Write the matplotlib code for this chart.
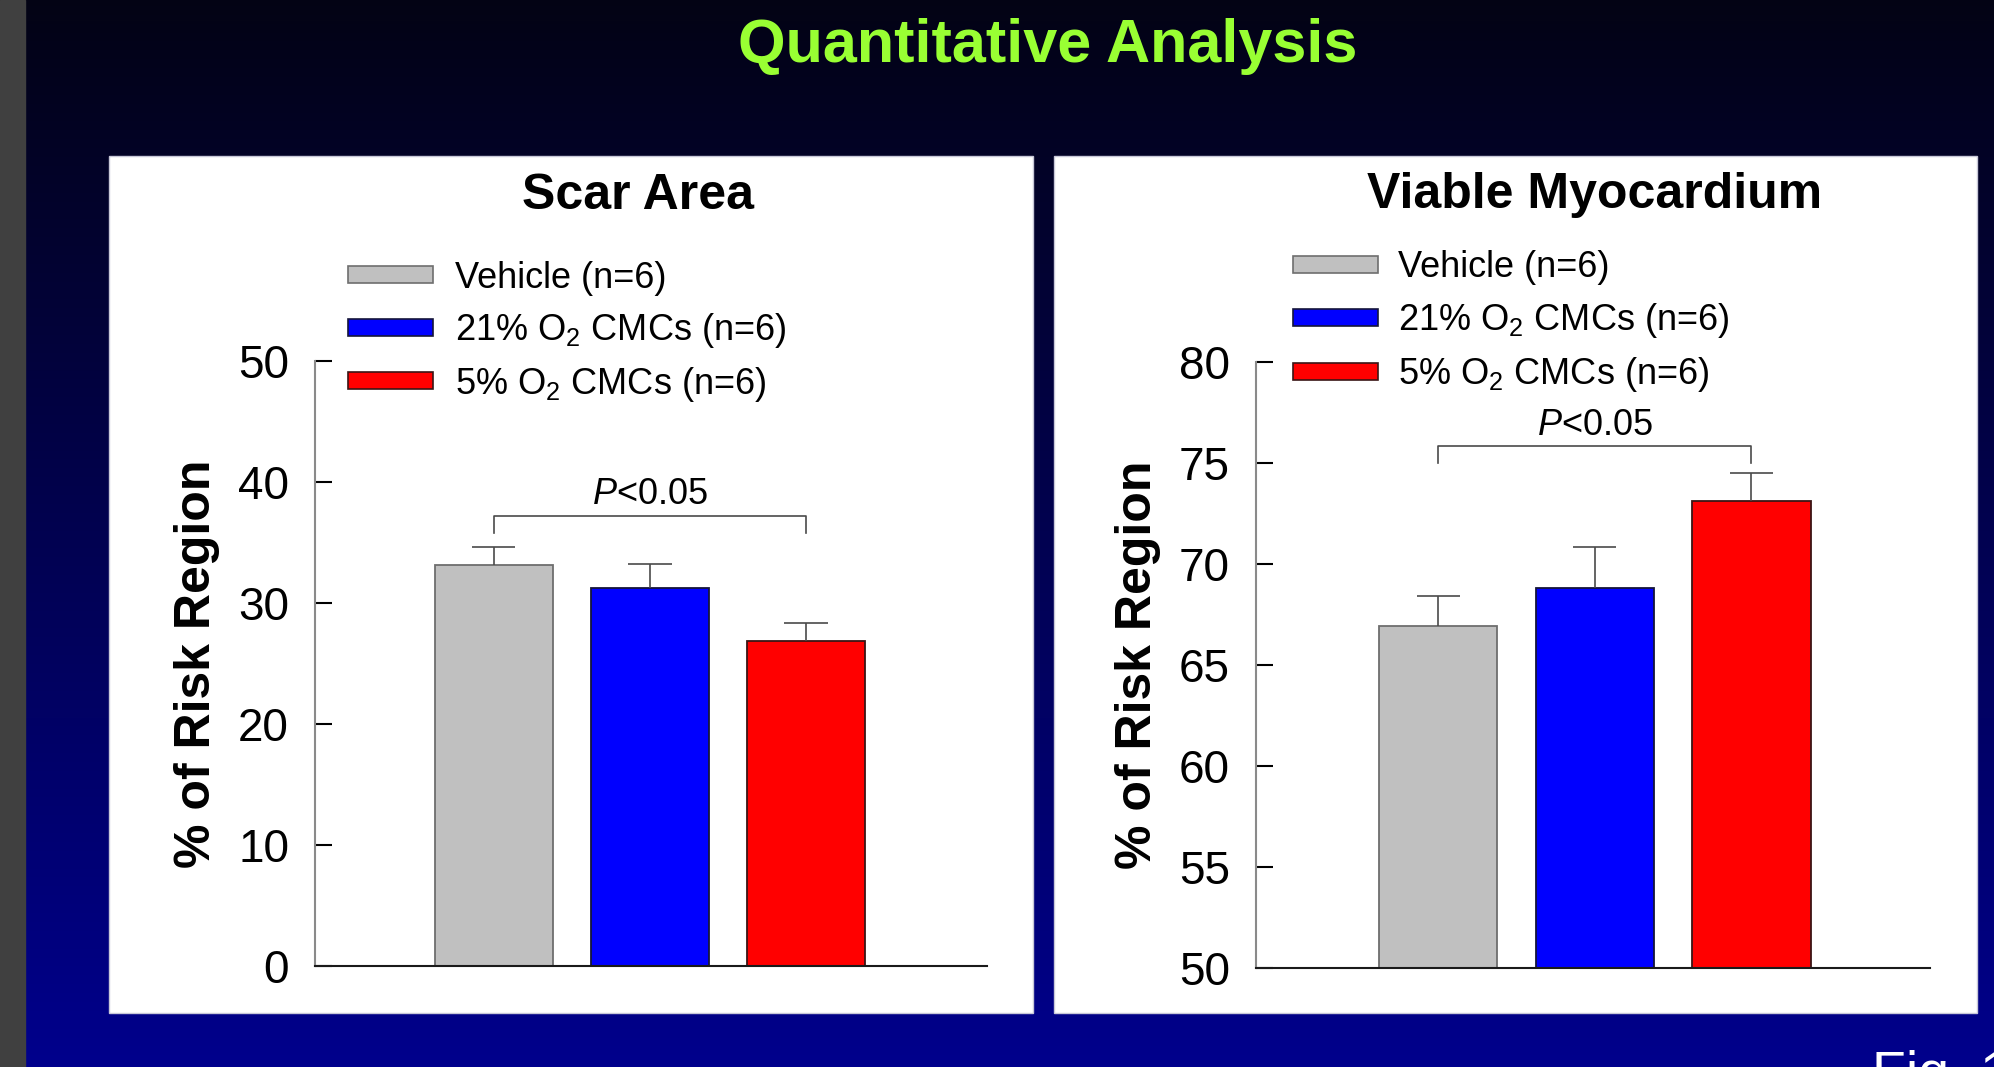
import numpy as np
import matplotlib
matplotlib.use('Agg')
import matplotlib.pyplot as plt
from matplotlib.patches import Rectangle

plt.rcParams['font.family'] = ['Liberation Sans', 'DejaVu Sans']
plt.rcParams['mathtext.fontset'] = 'custom'
plt.rcParams['mathtext.rm'] = 'Liberation Sans'
plt.rcParams['mathtext.it'] = 'Liberation Sans:italic'
plt.rcParams['mathtext.bf'] = 'Liberation Sans:bold'

# slide size in pixels (dpi 100)
W, H = 1994, 1067

# data
group_labels = ['Vehicle (n=6)', '21% O$_2$ CMCs (n=6)', '5% O$_2$ CMCs (n=6)']
bar_colors = ['#C0C0C0', '#0000FF', '#FF0000']
bar_edges = ['#6E6E6E', '#15153A', '#3A1515']

scar_mean = [33.1, 31.2, 26.9]
scar_sem = [1.5, 2.05, 1.45]
scar_ticks = [0, 10, 20, 30, 40, 50]

viable_mean = [66.9, 68.8, 73.1]
viable_sem = [1.5, 2.05, 1.4]
viable_ticks = [50, 55, 60, 65, 70, 75, 80]

p_label = '$P$<0.05'


def draw_panel(ax, means, sems, ticks, xlim, bracket_top, bracket_drop, p_y):
    x = np.arange(len(means))
    means = np.asarray(means)
    tops = means + np.asarray(sems)
    ax.bar(x, means, width=0.756, color=bar_colors, edgecolor=bar_edges,
           linewidth=1.3, zorder=2)
    # upper SEM only
    ax.vlines(x, means, tops, color='#4A4A4A', lw=1.2, zorder=3)
    ax.hlines(tops, x - 0.138, x + 0.138, color='#4A4A4A', lw=1.2, zorder=3)
    # significance bracket vehicle vs 5% O2
    ax.plot([x[0], x[0], x[-1], x[-1]],
            [bracket_drop, bracket_top, bracket_top, bracket_drop],
            color='#4A4A4A', lw=1.2, zorder=3)
    ax.text(x[1], p_y, p_label, ha='center', va='baseline', fontsize=26)

    ax.set_xlim(*xlim)
    ax.set_ylim(ticks[0], ticks[-1])
    ax.set_yticks(ticks)
    ax.set_facecolor('none')
    for side in ('top', 'right'):
        ax.spines[side].set_visible(False)
    ax.spines['left'].set_color('#8A8A8A')
    ax.spines['left'].set_linewidth(1.5)
    ax.spines['bottom'].set_color('#1A1A1A')
    ax.spines['bottom'].set_linewidth(1.5)
    ax.tick_params(axis='y', direction='in', length=12.2, width=1.5,
                   pad=18.7, labelsize=33, color='black')
    ax.tick_params(axis='x', bottom=False, labelbottom=False)
    ax.set_ylabel('% of Risk Region', fontsize=36, fontweight='bold')
    ax.yaxis.set_label_coords(-0.141, 0.5)


def draw_legend(ax_bg, patch_x, text_x, centers):
    for label, fc, ec, cy in zip(group_labels, bar_colors, bar_edges, centers):
        ax_bg.add_patch(Rectangle((patch_x, cy - 8.5), 85, 17, facecolor=fc,
                                  edgecolor=ec, lw=1.2))
        ax_bg.text(text_x, cy + 13, label, ha='left', va='baseline', fontsize=26)


fig = plt.figure(figsize=(W / 100, H / 100), dpi=100)

# background: dark-to-blue slide gradient, drawn in pixel coordinates
ax_bg = fig.add_axes([0, 0, 1, 1], zorder=-1)
g = np.linspace(0, 1, H)[:, None, None]
top_c = np.array([0.012, 0.012, 0.08])
bot_c = np.array([0.0, 0.0, 0.55])
grad = top_c * (1 - g) + bot_c * g
ax_bg.imshow(grad, extent=(0, W, H, 0), origin='upper', aspect='auto')
ax_bg.set_xlim(0, W)
ax_bg.set_ylim(H, 0)
ax_bg.axis('off')

ax_bg.add_patch(Rectangle((0, 0), 25, H, color='#404040'))
ax_bg.add_patch(Rectangle((109, 156), 924, 857, facecolor='white',
                          edgecolor='#C8C8D8', lw=1))
ax_bg.add_patch(Rectangle((1054, 156), 923, 857, facecolor='white',
                          edgecolor='#C8C8D8', lw=1))

ax_bg.text(1048, 62, 'Quantitative Analysis', ha='center', va='baseline',
           fontsize=44, fontweight='bold', color='#99FF33')
ax_bg.text(638, 209, 'Scar Area', ha='center', va='baseline',
           fontsize=36, fontweight='bold')
ax_bg.text(1595, 208, 'Viable Myocardium', ha='center', va='baseline',
           fontsize=36, fontweight='bold')
ax_bg.text(1872, 1050, 'Fig. 1', ha='left', va='top', fontsize=40,
           color='white', clip_on=False)

draw_legend(ax_bg, 348, 455, [274.5, 327.5, 380.5])
draw_legend(ax_bg, 1293, 1398, [264, 317.5, 371])

ax_scar = fig.add_axes([315 / W, 1 - 966 / H, 672 / W, 605 / H])
draw_panel(ax_scar, scar_mean, scar_sem, scar_ticks, (-1.147, 3.16),
           37.2, 35.8, 38.2)

ax_viable = fig.add_axes([1256 / W, 1 - 967.5 / H, 674 / W, 605.5 / H])
draw_panel(ax_viable, viable_mean, viable_sem, viable_ticks, (-1.163, 3.14),
           75.85, 75.0, 76.4)

fig.savefig('out.png', dpi=100)
